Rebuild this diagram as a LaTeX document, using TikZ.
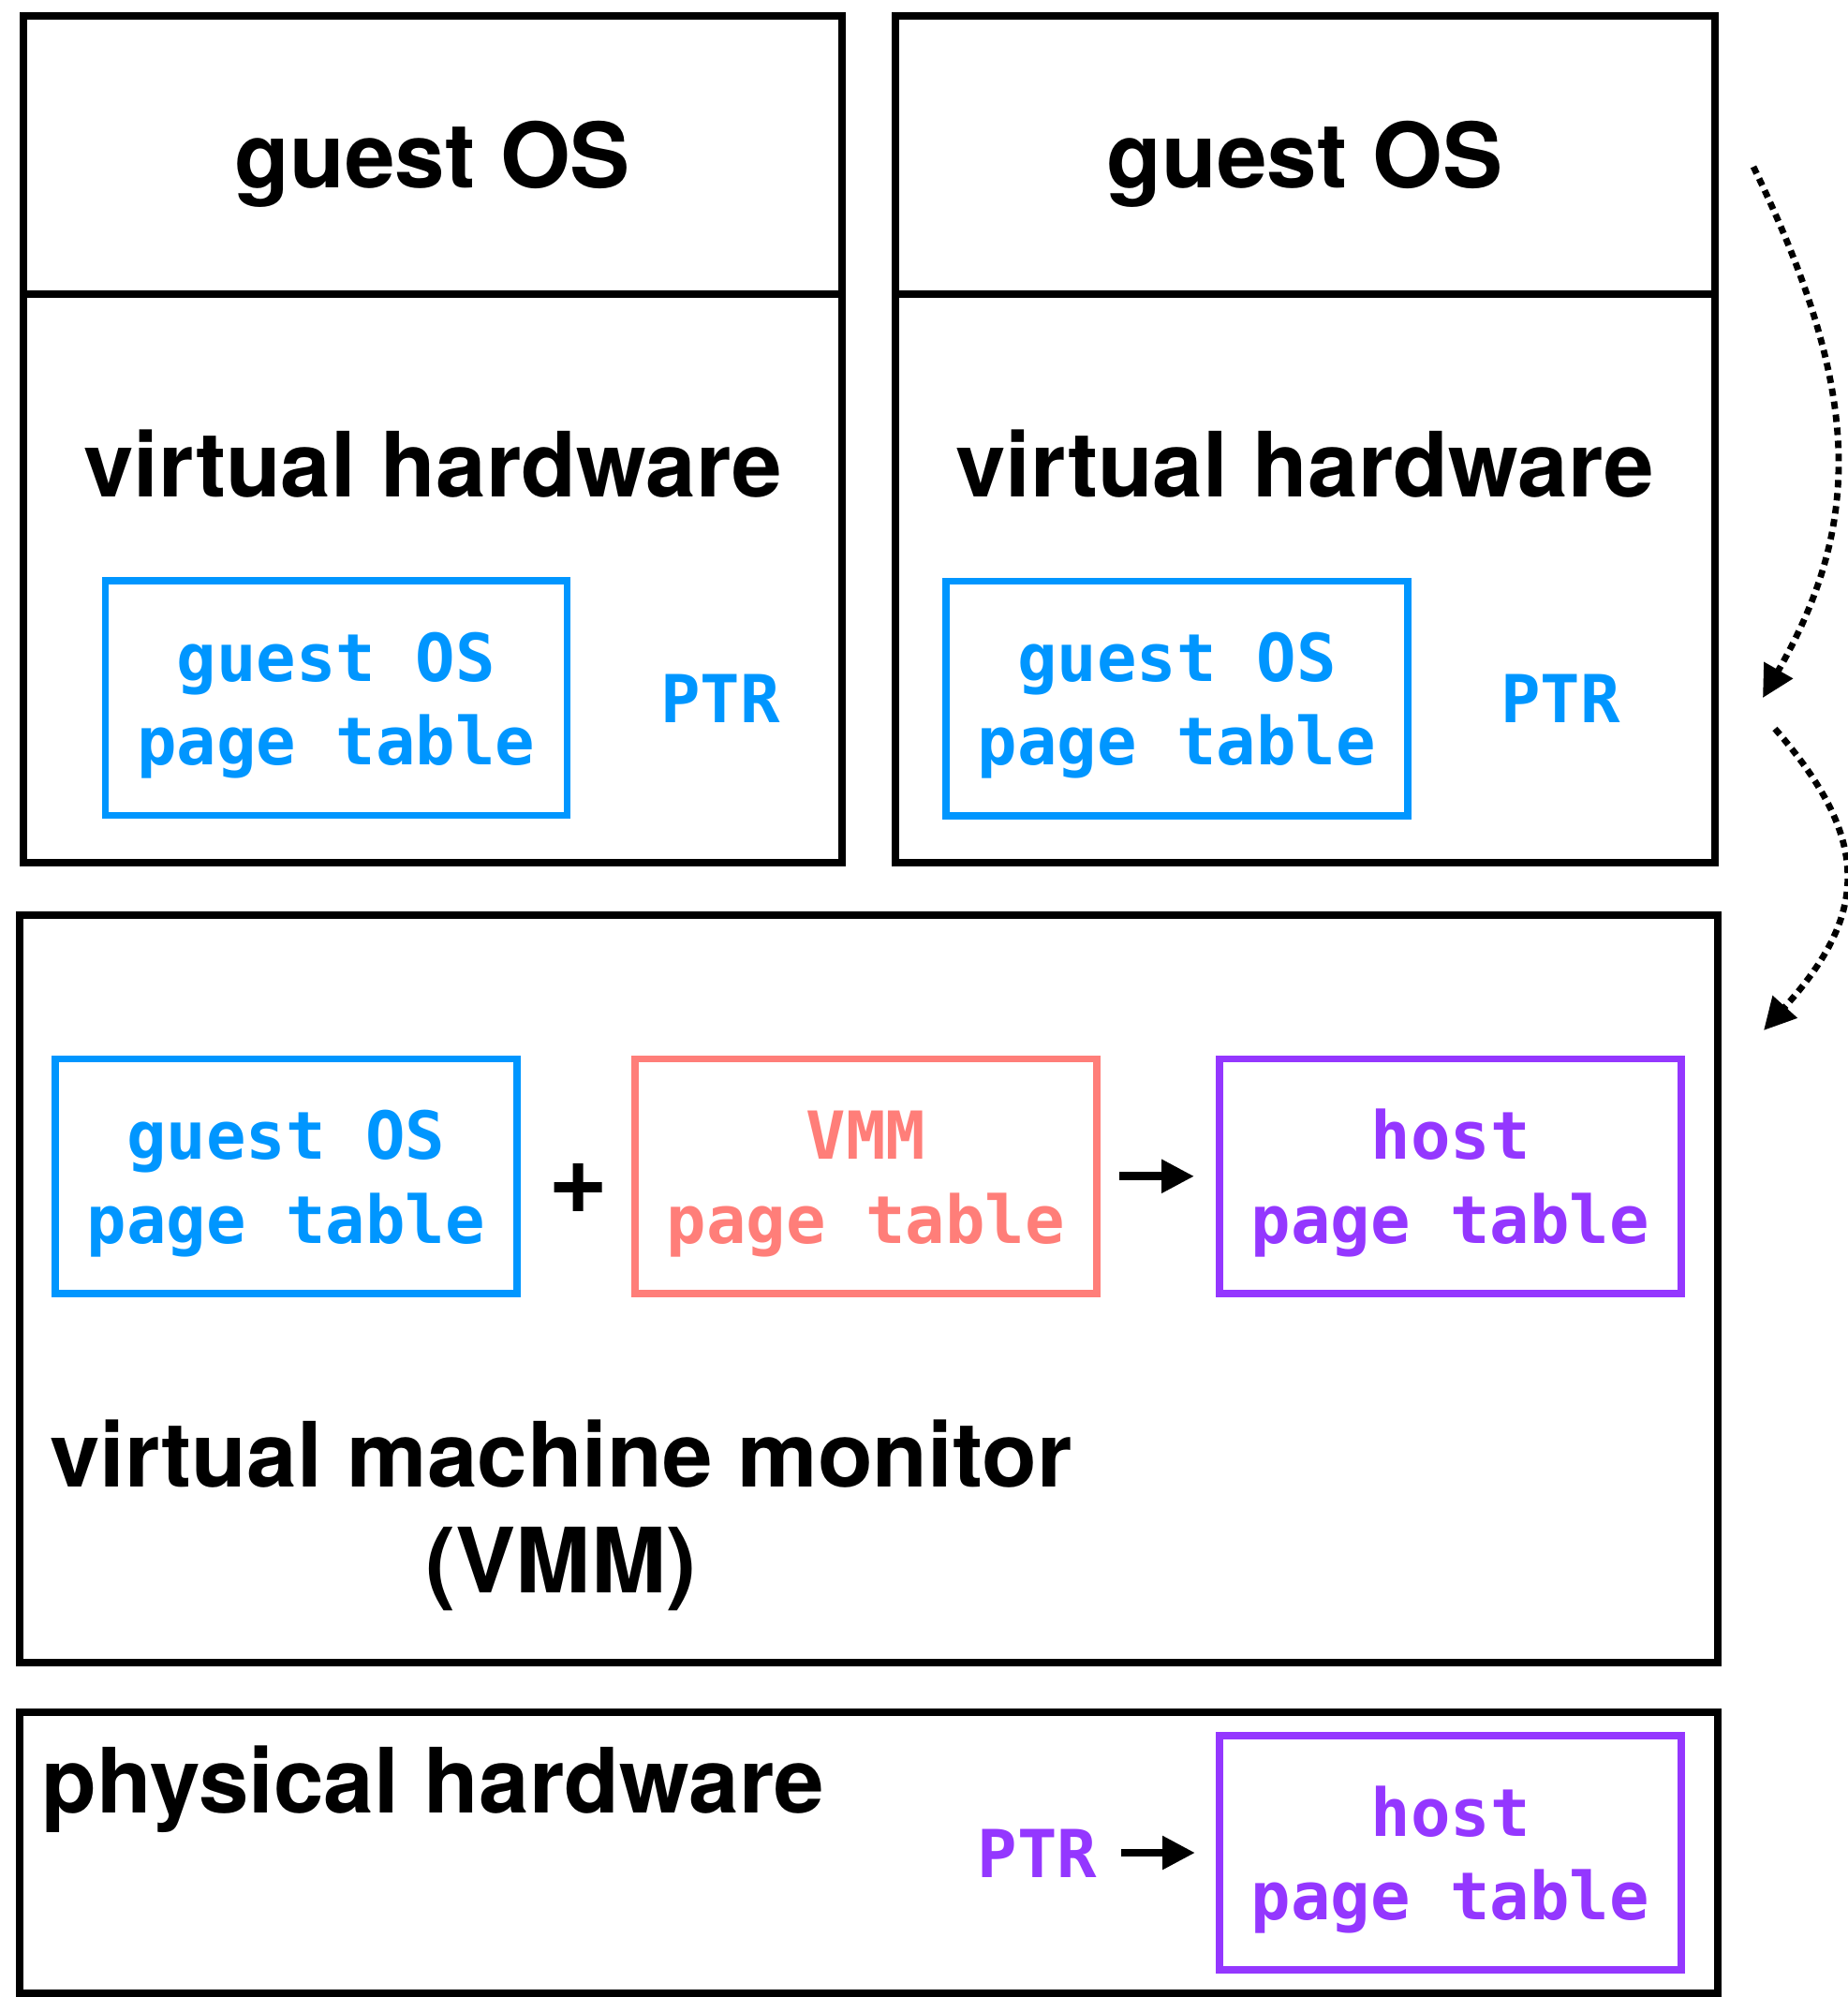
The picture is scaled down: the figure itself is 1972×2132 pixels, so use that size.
\documentclass[tikz,border=0pt]{standalone}
\usepackage{fontspec}
\setmainfont{TeX Gyre Heros}
\setmonofont{DejaVu Sans Mono}
\usetikzlibrary{arrows.meta}

\definecolor{ptblue}{RGB}{0,150,255}
\definecolor{ptsalmon}{RGB}{255,126,121}
\definecolor{ptgrape}{RGB}{148,55,255}

\tikzset{
  layer/.style={draw=black, line width=4pt, inner sep=0pt, outer sep=0pt},
  ptbox/.style={draw=#1, line width=3.75pt, inner sep=0pt, outer sep=0pt,
    minimum width=246.5pt, minimum height=125.25pt},
  head/.style={inner sep=0pt, anchor=base,
    font=\bfseries\fontsize{48.1pt}{56.5pt}\selectfont},
  mono/.style={inner sep=0pt, anchor=base, text=#1,
    font=\ttfamily\bfseries\fontsize{35.3pt}{45pt}\selectfont},
  maps/.style={line width=4.3pt, -{Triangle[length=17.5pt,width=17pt]}},
  walk/.style={line width=3.4pt, dash pattern=on 4pt off 3pt,
    -{Triangle[length=17pt,width=17pt]}}
}

\begin{document}
\begin{tikzpicture}[x=0.5pt, y=-0.5pt]
\useasboundingbox (0,0) rectangle (1972,2132);

% ---- left guest ----
\node[layer, minimum width=437pt, minimum height=452pt] (vmL) at (462,469) {};
\draw[line width=4pt] (vmL.west |- 0,314) -- (vmL.east |- 0,314);
\node[head] (osL) at (462,200.5) {guest OS};
\node[head] (vhL) at (462,530) {virtual hardware};
\node[ptbox=ptblue] (gptL) at (358.75,745.25) {};
\node[mono=ptblue] (gptLa) at (358.75,727) {guest OS};
\node[mono=ptblue] (gptLb) at (358.75,816) {page table};
\node[mono=ptblue] (ptrL) at (769,771) {PTR};

% ---- right guest ----
\node[layer, minimum width=437.75pt, minimum height=452pt] (vmR) at (1393.25,469) {};
\draw[line width=4pt] (vmR.west |- 0,314) -- (vmR.east |- 0,314);
\node[head] (osR) at (1393,200.5) {guest OS};
\node[head] (vhR) at (1393,530) {virtual hardware};
\node[ptbox=ptblue] (gptR) at (1256.5,745.5) {};
\node[mono=ptblue] (gptRa) at (1256.5,727) {guest OS};
\node[mono=ptblue] (gptRb) at (1256.5,816) {page table};
\node[mono=ptblue] (ptrR) at (1666,771.5) {PTR};

% ---- virtual machine monitor ----
\node[layer, minimum width=906.5pt, minimum height=399pt] (vmm) at (927.5,1376) {};
\node[ptbox=ptblue] (gptV) at (305.5,1255.75) {};
\node[mono=ptblue] (gptVa) at (305.5,1237) {guest OS};
\node[mono=ptblue] (gptVb) at (305.5,1327) {page table};
\node[head, font=\bfseries\fontsize{55pt}{60pt}\selectfont] (plus) at (618,1295) {+};
\node[ptbox=ptsalmon] (vmmpt) at (924.5,1255.75) {};
\node[mono=ptsalmon] (vmmpta) at (924.5,1237) {VMM};
\node[mono=ptsalmon] (vmmptb) at (924.5,1327) {page table};
\node[ptbox=ptgrape] (hostV) at (1548.5,1255.75) {};
\node[mono=ptgrape] (hostVa) at (1548.5,1237) {host};
\node[mono=ptgrape] (hostVb) at (1548.5,1327) {page table};
\draw[maps, shorten <=12pt, shorten >=13.5pt] (vmmpt.east) -- (hostV.west);
\node[head] (vmmA) at (599,1587) {virtual machine monitor};
\node[head] (vmmB) at (599,1700) {(VMM)};

% ---- physical hardware ----
\node[layer, minimum width=906.5pt, minimum height=150.25pt] (phys) at (927.5,1977.75) {};
\node[head, anchor=base west] (physA) at (44,1935) {physical hardware};
\node[ptbox=ptgrape, minimum height=125pt] (hostP) at (1548.5,1978) {};
\node[mono=ptgrape] (hostPa) at (1548.5,1960) {host};
\node[mono=ptgrape] (hostPb) at (1548.5,2049.5) {page table};
\node[mono=ptgrape] (ptrP) at (1107.7,2004) {PTR};
\draw[maps, shorten <=12.8pt, shorten >=13pt] (ptrP.east |- hostP.west) -- (hostP.west);

% ---- page walk arrows ----
\coordinate (w1s) at (1872,178);
\coordinate (w1e) at (1882,745);
\draw[walk] (w1s) .. controls (1988.6,419) and (1988.6,558) .. (w1e);
\coordinate (w2s) at (1895,778);
\coordinate (w2e) at (1883,1100);
\draw[walk] (w2s) .. controls (1997,895) and (1997,974) .. (w2e);
\end{tikzpicture}
\end{document}
